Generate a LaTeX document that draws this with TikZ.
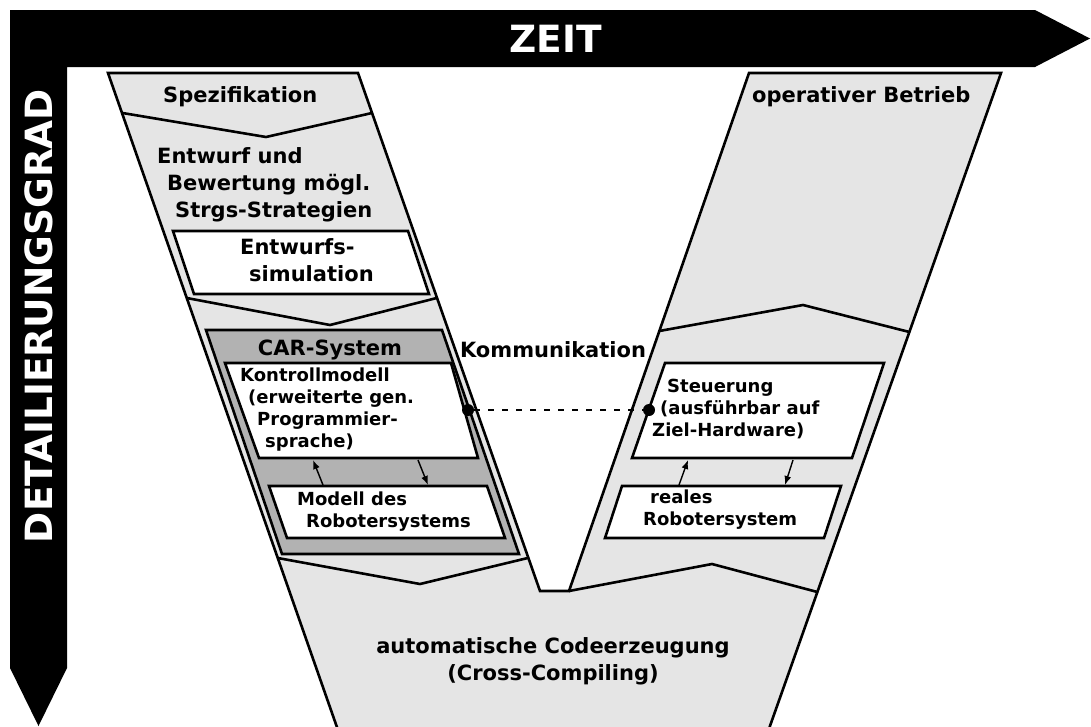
\documentclass[tikz,border=0pt]{standalone}
\usepackage{fontspec}
\setmainfont{DejaVu Sans}
\usetikzlibrary{arrows.meta}

\begin{document}
\begin{tikzpicture}[x=1pt,y=-1pt,
    rand/.style={line width=2.6pt,line join=miter},
    txt/.style={font=\fontsize{21}{27}\selectfont\bfseries,inner sep=0pt,align=left},
    klein/.style={font=\fontsize{18}{22}\selectfont\bfseries,inner sep=0pt,align=left},
    gross/.style={font=\fontsize{37.5}{40}\selectfont\bfseries,text=white,inner sep=0pt},
    pfeil/.style={line width=1.4pt,-{Latex[length=9pt,width=7pt]}},
    punkt/.style={circle,fill=black,inner sep=0pt,minimum size=12pt},
    komm/.style={line width=2.8pt,dash pattern=on 5.5pt off 8.5pt}]
    \useasboundingbox (0,0) rectangle (1091,726);
    \clip (0,0) rectangle (1091,726);
    \fill (10,10)--(1035,10)--(1090,38.5)--(1035,67)--(67,67)--(67,668)--(38.5,726)--(10,668)--cycle;
    \filldraw[rand,fill=black!10] (108,73)--(358,73)--(540,591)--(569,591)--(749,73)--(1001,73)--(767.5,733)--(339,733)--cycle;
    \draw[rand] (122.5,113)--(266,137)--(372,113);
    \draw[rand] (186.75,298)--(330,325)--(436.75,298);
    \draw[rand] (277.75,558)--(420,584)--(527.75,558);
    \draw[rand] (659.3,331)--(803,305)--(909.4,332);
    \draw[rand] (569,591)--(712,564)--(817.4,592);
    \filldraw[rand,fill=white] (173,231)--(408,231)--(429,294)--(194,294)--cycle;
    \filldraw[rand,fill=black!30] (206,330)--(442,330)--(519,554)--(282,554)--cycle;
    \filldraw[rand,fill=white] (225,363)--(451,363)--(478,458)--(259,458)--cycle;
    \filldraw[rand,fill=white] (269,486)--(487,486)--(505,538)--(287,538)--cycle;
    \filldraw[rand,fill=white] (665,363)--(884,363)--(852,458)--(632,458)--cycle;
    \filldraw[rand,fill=white] (622,486)--(841,486)--(824,538)--(605,538)--cycle;
    \coordinate (kmU) at (313,460);
    \coordinate (mrU) at (323,485);
    \coordinate (kmD) at (418,460);
    \coordinate (mrD) at (428,485);
    \coordinate (stU) at (688,460);
    \coordinate (rrU) at (679,485);
    \coordinate (stD) at (793,460);
    \coordinate (rrD) at (785,485);
    \draw[pfeil] (mrU) -- (kmU);
    \draw[pfeil] (kmD) -- (mrD);
    \draw[pfeil] (rrU) -- (stU);
    \draw[pfeil] (stD) -- (rrD);
    \node[punkt] (kdot) at (468,410) {};
    \node[punkt] (sdot) at (649,410) {};
    \draw[komm] (kdot) -- (sdot);
    \node[gross] (zeit) at (555.5,39) {ZEIT};
    \node[gross,rotate=90] (grad) at (38.5,316) {DETAILIERUNGSGRAD};
    \node[txt,anchor=west] (spez) at (163,97) {Spezifikation};
    \node[txt,anchor=west] (entw) at (157,184.5) {Entwurf und\\\hspace*{10pt}Bewertung mögl.\\\hspace*{18pt}Strgs-Strategien};
    \node[txt,anchor=west] (esim) at (240,260.5) {Entwurfs-\\\hspace*{9pt}simulation};
    \node[txt] (car) at (330,350) {CAR-System};
    \node[klein,anchor=west] (kmod) at (240,410) {Kontrollmodell\\\hspace*{8pt}(erweiterte gen.\\\hspace*{17pt}Programmier-\\\hspace*{25pt}sprache)};
    \node[klein,anchor=west] (mrob) at (297,511.5) {Modell des\\\hspace*{9pt}Robotersystems};
    \node[txt] (komm) at (553,350) {Kommunikation};
    \node[txt,anchor=west] (betr) at (752,97) {operativer Betrieb};
    \node[klein,anchor=west] (steu) at (652,409) {\hspace*{15pt}Steuerung\\\hspace*{8pt}(ausführbar auf\\Ziel-Hardware)};
    \node[klein,anchor=west] (rrob) at (643,509.5) {\hspace*{7pt}reales\\Robotersystem};
    \node[txt,align=center] (code) at (553,661.5) {automatische Codeerzeugung\\(Cross-Compiling)};
\end{tikzpicture}
\end{document}
